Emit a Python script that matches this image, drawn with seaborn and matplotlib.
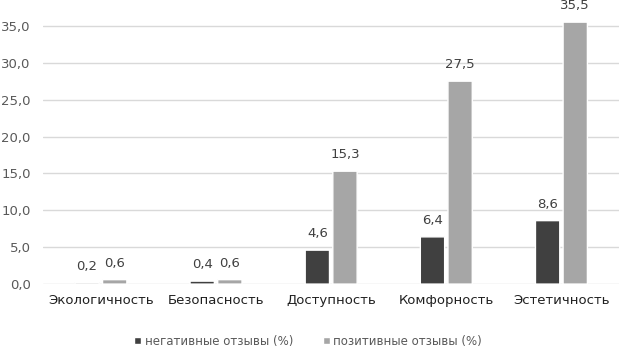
import numpy as np
import pandas as pd
import seaborn as sns
import matplotlib.pyplot as plt

categories = ['Экологичность', 'Безопасность', 'Доступность', 'Комфорность', 'Эстетичность']
negative = [0.2, 0.4, 4.6, 6.4, 8.6]
positive = [0.6, 0.6, 15.3, 27.5, 35.5]
series = ['негативные отзывы (%)', 'позитивные отзывы (%)']
yticks = [0, 5, 10, 15, 20, 25, 30, 35]

df = pd.DataFrame({
  'cat': categories * 2,
  'val': negative + positive,
  'series': [series[0]] * 5 + [series[1]] * 5,
})

sns.set_style('white')
plt.rcParams['font.family'] = ['DejaVu Sans']

fig = plt.figure(figsize=(6.19, 3.49), dpi=100)
ax = fig.add_axes([0.07, 0.186, 0.93, 0.814])

sns.barplot(data=df, x='cat', y='val', hue='series', order=categories,
            palette=['#404040', '#a6a6a6'], width=0.48, gap=0.12,
            saturation=1, ax=ax, errorbar=None, zorder=3)
for p in ax.patches:
  p.set_snap(False)

for cont in ax.containers:
  ax.bar_label(cont, labels=[f'{v:.1f}'.replace('.', ',') for v in cont.datavalues],
               padding=7, fontsize=9.5, color='#404040')

ax.set_ylim(0, 38.5)
ax.set_yticks(yticks)
ax.set_yticklabels([f'{t:.1f}'.replace('.', ',') for t in yticks], color='#595959', fontsize=9.5)
ax.yaxis.grid(True, color='#d9d9d9', linewidth=1, zorder=0)
ax.set_axisbelow(True)
for s in ax.spines.values():
  s.set_visible(False)
ax.tick_params(axis='both', length=0)
ax.tick_params(axis='y', pad=9)
ax.tick_params(axis='x', pad=7, labelsize=9.5, labelcolor='#202020')
ax.set_xlim(-0.5, 4.5)
ax.set_xlabel('')
ax.set_ylabel('')

ax.legend(loc='lower center', bbox_to_anchor=(0.46, -0.245), ncol=2, frameon=False,
          fontsize=8.5, labelcolor='#595959', handlelength=0.6, handleheight=0.6,
          handletextpad=0.3, columnspacing=2.5, borderpad=0)

fig.savefig('out.png', dpi=100)
